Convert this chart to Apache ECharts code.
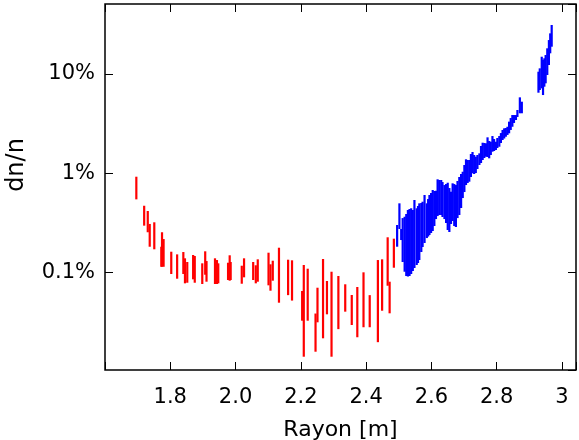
<!DOCTYPE html>
<html>
<head>
<meta charset="utf-8">
<script src="https://cdn.jsdelivr.net/npm/echarts@6/dist/echarts.min.js"></script>
<style>html,body{margin:0;padding:0;background:#fff;}#c{width:579px;height:440px;}</style>
</head>
<body>
<div id="c"></div>
<script>
// Red segment data (x = Rayon [m], lo/hi = dn/n in %)
const redX  = [1.696,1.720,1.731,1.737,1.751,1.7725,1.7747,1.7795,1.803,1.821,1.840,1.845,1.852,1.870,1.875,1.898,1.907,1.911,1.937,1.943,1.947,1.977,1.982,1.985,2.019,2.026,2.054,2.062,2.068,2.101,2.107,2.114,2.133,2.161,2.173,2.204,2.209,2.221,2.245,2.251,2.268,2.280,2.294,2.315,2.336,2.356,2.373,2.392,2.411,2.436,2.449,2.466,2.472,2.485];
const redLo = [0.545,0.296,0.254,0.1815,0.171,0.114,0.114,0.114,0.0964,0.0864,0.0964,0.0776,0.0787,0.0852,0.0787,0.0764,0.0948,0.0806,0.0764,0.0764,0.0776,0.0838,0.0825,0.0838,0.0769,0.0892,0.0838,0.0776,0.0806,0.0741,0.0654,0.0825,0.0495,0.059,0.052,0.0326,0.01413,0.0326,0.01587,0.0314,0.02166,0.0378,0.01413,0.0268,0.0402,0.0295,0.0222,0.028,0.028,0.0198,0.0411,0.0734,0.0387,0.1115];
const redHi = [0.922,0.470,0.416,0.308,0.320,0.1815,0.254,0.217,0.1617,0.152,0.1605,0.1387,0.1273,0.1498,0.1463,0.1235,0.1632,0.1302,0.1387,0.1333,0.1235,0.1252,0.1488,0.1273,0.1168,0.1387,0.1273,0.118,0.1355,0.158,0.1207,0.1312,0.1774,0.1343,0.1324,0.065,0.1188,0.109,0.0385,0.0701,0.1365,0.0819,0.1016,0.092,0.0759,0.0592,0.0713,0.1002,0.059,0.1333,0.1355,0.226,0.0806,0.2188];

// Blue segment data
const blueX  = [2.495,2.502,2.5075,2.512,2.518,2.523,2.528,2.533,2.538,2.543,2.548,2.555,2.559,2.563,2.569,2.573,2.579,2.586,2.590,2.594,2.599,2.604,2.609,2.614,2.619,2.624,2.630,2.634,2.640,2.645,2.650,2.655,2.660,2.665,2.670,2.675,2.680,2.6855,2.691,2.696,2.701,2.706,2.711,2.716,2.721,2.726,2.731,2.736,2.741,2.747,2.752,2.757,2.762,2.767,2.772,2.777,2.782,2.787,2.792,2.7975,2.802,2.808,2.813,2.818,2.823,2.828,2.833,2.838,2.843,2.848,2.853,2.859,2.8635,2.871,2.877,2.928,2.932,2.938,2.942,2.946,2.950,2.955,2.960,2.964,2.9685];
const blueLo = [0.1816,0.274,0.212,0.1273,0.1016,0.0920,0.0909,0.0920,0.0964,0.1033,0.1108,0.1188,0.1244,0.1334,0.1605,0.1803,0.198,0.222,0.230,0.238,0.2496,0.2615,0.2935,0.345,0.370,0.379,0.379,0.362,0.345,0.315,0.2677,0.2555,0.3075,0.330,0.2935,0.287,0.353,0.379,0.446,0.562,0.646,0.760,0.797,0.821,0.916,0.998,0.982,1.005,1.102,1.210,1.267,1.359,1.423,1.467,1.457,1.413,1.526,1.647,1.674,1.713,1.795,1.849,2.016,2.161,2.238,2.333,2.43,2.525,2.73,2.94,3.21,3.44,3.69,4.02,4.02,6.48,6.90,7.17,6.14,7.45,8.06,9.77,12.32,16.17,18.85];
const blueHi = [0.3005,0.497,0.274,0.353,0.364,0.388,0.426,0.436,0.443,0.426,0.537,0.443,0.467,0.497,0.501,0.516,0.603,0.497,0.549,0.603,0.632,0.677,0.662,0.666,0.868,0.854,0.854,0.815,0.760,0.778,0.802,0.709,0.651,0.791,0.778,0.760,0.835,0.916,0.982,1.035,1.210,1.381,1.359,1.359,1.561,1.636,1.526,1.467,1.526,1.586,1.880,2.03,2.016,2.002,2.30,2.112,2.077,2.37,2.212,2.077,2.264,2.37,2.54,2.73,2.835,2.855,2.94,3.31,3.60,3.86,3.86,3.86,4.34,5.82,5.26,10.55,11.41,14.94,13.84,14.40,15.54,18.16,22.0,25.7,31.2];

// Axis ticks
const xTickValues = [1.8,2.0,2.2,2.4,2.6,2.8,3.0];
const xTickLabels = ['1.8','2.0','2.2','2.4','2.6','2.8','3'];
const yTickValues = [0.1,1,10];
const yTickLabels = ['0.1%','1%','10%'];

const X_MIN = 1.6, X_MAX = 3.043, Y_MIN = 0.01038, Y_MAX = 50.8;
const FONT = 'DejaVu Sans';

function xFmt(v){
  for (let i=0;i<xTickValues.length;i++) if (Math.abs(v-xTickValues[i])<1e-6) return xTickLabels[i];
  return '';
}
function yFmt(v){
  for (let i=0;i<yTickValues.length;i++) if (Math.abs(Math.log10(v)-Math.log10(yTickValues[i]))<1e-6) return yTickLabels[i];
  return '';
}

function rows(xs, lo, hi){ return xs.map((x,i)=>[x, lo[i], hi[i]]); }

function segRenderer(color){
  return function(params, api){
    const p1 = api.coord([api.value(0), api.value(1)]);
    const p2 = api.coord([api.value(0), api.value(2)]);
    return {type:'line', shape:{x1:p1[0], y1:p1[1], x2:p2[0], y2:p2[1]},
            style:{stroke:color, lineWidth:2.2}};
  };
}

const tickStyle = {show:true, inside:true, length:8, lineStyle:{color:'#000', width:1}};
const chart = echarts.init(document.getElementById('c'), null, {renderer:'canvas'});
chart.setOption({
  animation:false,
  backgroundColor:'#fff',
  grid:{left:105, right:3, top:4, bottom:70, containLabel:false, outerBoundsMode:'none',
        show:true, borderColor:'#000', borderWidth:1.5, backgroundColor:'transparent'},
  xAxis:[
    {type:'value', min:X_MIN, max:X_MAX, interval:0.2, position:'bottom',
     axisLine:{show:false}, splitLine:{show:false}, axisTick:tickStyle,
     axisLabel:{formatter:xFmt, color:'#000', fontFamily:FONT, fontSize:21, margin:17},
     name:'Rayon [m]', nameLocation:'middle', nameGap:49,
     nameTextStyle:{color:'#000', fontFamily:FONT, fontSize:22}},
    {type:'value', min:X_MIN, max:X_MAX, interval:0.2, position:'top',
     axisLine:{show:false}, splitLine:{show:false}, axisTick:tickStyle, axisLabel:{show:false}}
  ],
  yAxis:[
    {type:'log', logBase:10, min:Y_MIN, max:Y_MAX, position:'left',
     axisLine:{show:false}, splitLine:{show:false}, axisTick:tickStyle, minorTick:{show:false},
     axisLabel:{formatter:yFmt, color:'#000', fontFamily:FONT, fontSize:21, margin:10, showMinLabel:false, showMaxLabel:false},
     name:'dn/n', nameLocation:'middle', nameGap:76,
     nameTextStyle:{color:'#000', fontFamily:FONT, fontSize:24, padding:[0,0,0,44]}},
    {type:'log', logBase:10, min:Y_MIN, max:Y_MAX, position:'right',
     axisLine:{show:false}, splitLine:{show:false}, axisTick:tickStyle, axisLabel:{show:false}}
  ],
  series:[
    {type:'custom', name:'red', xAxisIndex:0, yAxisIndex:0, clip:true,
     renderItem:segRenderer('#ff0000'), data:rows(redX, redLo, redHi), encode:{x:0, y:[1,2]}},
    {type:'custom', name:'blue', xAxisIndex:0, yAxisIndex:0, clip:true,
     renderItem:segRenderer('#0000ff'), data:rows(blueX, blueLo, blueHi), encode:{x:0, y:[1,2]}}
  ]
});
</script>
</body>
</html>
